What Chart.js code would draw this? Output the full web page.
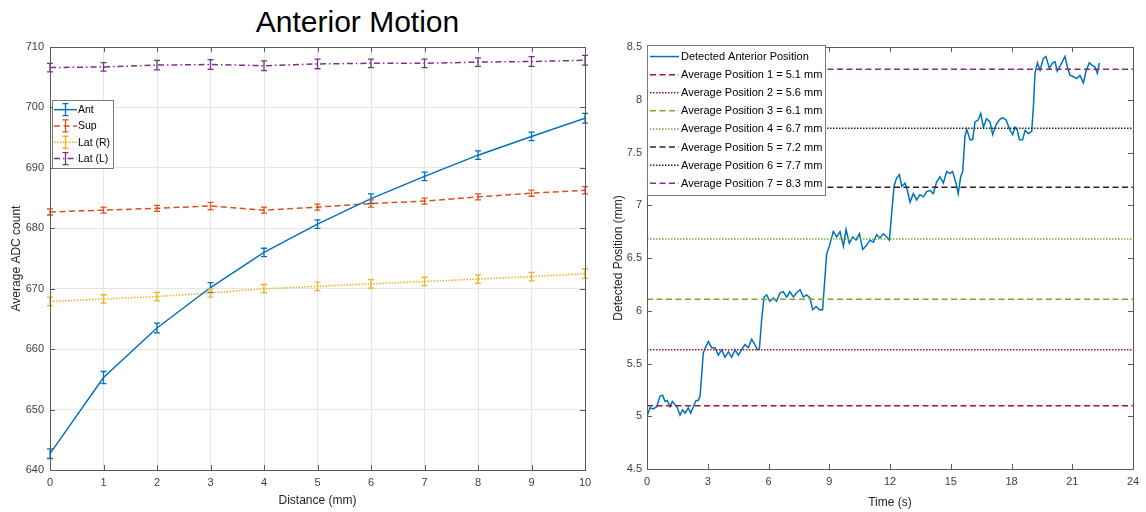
<!DOCTYPE html>
<html>
<head>
<meta charset="utf-8">
<script src="https://cdn.jsdelivr.net/npm/chart.js@4.4.1/dist/chart.umd.min.js"></script>
<style>
  body { margin: 0; background: #fff; width: 1146px; height: 512px; overflow: hidden; position: relative; font-family: "Liberation Sans", Arial, sans-serif; }
  #title { position: absolute; left: 0; width: 715px; top: 7px; line-height: 30px; text-align: center; font-size: 30px; color: #000; }
  #leftBox { position: absolute; left: 0; top: 0; width: 600px; height: 512px; }
  #rightBox { position: absolute; left: 600px; top: 0; width: 546px; height: 512px; }
</style>
</head>
<body>
<div id="title">Anterior Motion</div>
<div id="leftBox"><canvas id="adcChart"></canvas></div>
<div id="rightBox"><canvas id="posChart"></canvas></div>
<script>
// ---- left panel data ----
const distanceMm = [0, 1, 2, 3, 4, 5, 6, 7, 8, 9, 10];
const antAdc  = [642.7, 655.3, 663.5, 670.2, 676.0, 680.7, 684.9, 688.6, 692.1, 695.2, 698.2];
const supAdc  = [682.7, 683.0, 683.3, 683.7, 683.0, 683.5, 684.1, 684.5, 685.2, 685.8, 686.3];
const latRAdc = [667.9, 668.3, 668.7, 669.3, 670.0, 670.4, 670.8, 671.2, 671.6, 672.0, 672.5];
const latLAdc = [706.6, 706.7, 707.0, 707.1, 706.9, 707.2, 707.3, 707.3, 707.5, 707.6, 707.8];
const antErr  = [0.8, 1.0, 0.8, 0.8, 0.7, 0.7, 0.8, 0.7, 0.7, 0.7, 0.8];
const supErr  = [0.5, 0.5, 0.5, 0.6, 0.5, 0.5, 0.6, 0.5, 0.5, 0.5, 0.6];
const latRErr = [0.7, 0.7, 0.7, 0.7, 0.7, 0.7, 0.7, 0.7, 0.7, 0.7, 0.8];
const latLErr = [0.7, 0.7, 0.8, 0.8, 0.8, 0.8, 0.7, 0.7, 0.7, 0.8, 0.8];

// ---- right panel data ----
const timeS = [0.00, 0.15, 0.31, 0.48, 0.64, 0.77, 0.89, 1.00, 1.14, 1.25, 1.38, 1.50, 1.63, 1.76, 1.88, 2.04, 2.16, 2.29, 2.42, 2.53, 2.62,
  2.78, 2.86, 3.03, 3.19, 3.36, 3.52, 3.69, 3.85, 4.02, 4.18, 4.35, 4.51, 4.67, 4.84, 5.00, 5.17, 5.33, 5.45, 5.55,
  5.66, 5.78, 5.91, 6.07, 6.24, 6.40, 6.57, 6.73, 6.90, 7.06, 7.23, 7.39, 7.56, 7.72, 7.89, 8.05, 8.18, 8.35, 8.51, 8.67,
  8.79, 8.87, 9.00, 9.20, 9.37, 9.53, 9.70, 9.83, 9.99, 10.16, 10.32, 10.49, 10.65, 10.85, 11.01, 11.18, 11.34, 11.51, 11.67, 11.84, 11.97,
  12.08, 12.20, 12.33, 12.46, 12.58, 12.74, 12.86, 12.99, 13.15, 13.32, 13.48, 13.65, 13.81, 13.98, 14.14, 14.30, 14.47, 14.63, 14.80, 14.96, 15.09, 15.26, 15.37, 15.49, 15.59,
  15.70, 15.79, 15.95, 16.08, 16.20, 16.36, 16.48, 16.61, 16.77, 16.94, 17.07, 17.23, 17.40, 17.56, 17.73, 17.93, 18.06, 18.17, 18.29, 18.39, 18.55, 18.67, 18.83, 19.00,
  19.08, 19.16, 19.28, 19.41, 19.57, 19.70, 19.87, 20.03, 20.15, 20.26, 20.43, 20.64, 20.76, 20.89, 21.05, 21.22, 21.38, 21.55, 21.68, 21.84, 21.96, 22.12, 22.24, 22.34];
const posMm = [5.00, 5.08, 5.07, 5.09, 5.19, 5.20, 5.14, 5.15, 5.09, 5.14, 5.11, 5.08, 5.01, 5.06, 5.03, 5.08, 5.03, 5.09, 5.15, 5.15, 5.19,
  5.60, 5.64, 5.71, 5.65, 5.65, 5.58, 5.63, 5.56, 5.61, 5.56, 5.63, 5.58, 5.63, 5.68, 5.65, 5.73, 5.68, 5.63, 5.64,
  5.91, 6.13, 6.15, 6.09, 6.12, 6.09, 6.17, 6.18, 6.13, 6.18, 6.13, 6.17, 6.20, 6.13, 6.15, 6.12, 6.01, 6.04, 6.01, 6.01,
  6.32, 6.54, 6.61, 6.75, 6.70, 6.75, 6.61, 6.77, 6.64, 6.70, 6.67, 6.73, 6.58, 6.62, 6.67, 6.65, 6.72, 6.69, 6.73, 6.70, 6.67,
  6.92, 7.18, 7.26, 7.29, 7.18, 7.21, 7.14, 7.03, 7.11, 7.05, 7.10, 7.08, 7.13, 7.14, 7.11, 7.22, 7.27, 7.21, 7.32, 7.30, 7.32, 7.21, 7.11, 7.27, 7.32,
  7.65, 7.72, 7.62, 7.62, 7.79, 7.81, 7.87, 7.74, 7.82, 7.79, 7.67, 7.76, 7.81, 7.83, 7.81, 7.71, 7.67, 7.74, 7.71, 7.62, 7.62, 7.71, 7.68, 7.70,
  7.93, 8.25, 8.35, 8.28, 8.39, 8.41, 8.30, 8.35, 8.36, 8.27, 8.33, 8.41, 8.31, 8.23, 8.22, 8.20, 8.23, 8.16, 8.27, 8.35, 8.33, 8.31, 8.25, 8.35];
const avgLevels = [5.10, 5.63, 6.11, 6.68, 7.17, 7.73, 8.29];
const avgLabels = ['Average Position 1 = 5.1 mm', 'Average Position 2 = 5.6 mm', 'Average Position 3 = 6.1 mm',
  'Average Position 4 = 6.7 mm', 'Average Position 5 = 7.2 mm', 'Average Position 6 = 7.7 mm', 'Average Position 7 = 8.3 mm'];
const avgColors = ['#A2142F', '#A2142F', '#77AC30', '#77AC30', '#262626', '#262626', '#7E2F8E'];

const FONT = '"Liberation Sans", Arial, sans-serif';
const TICK_COLOR = '#404040';
const DASH = [6, 3.5];
const DOT = [1.5, 1.5];

// error bars (vertical with caps) drawn through the chart's scales
const errorBarPlugin = {
  id: 'errorBars',
  afterDatasetsDraw(chart) {
    const { ctx, scales: { x, y } } = chart;
    chart.data.datasets.forEach(ds => {
      if (!ds.errors) return;
      ctx.save();
      ctx.strokeStyle = ds.borderColor;
      ctx.lineWidth = 1.3;
      ds.data.forEach((p, i) => {
        const px = x.getPixelForValue(p.x);
        const top = y.getPixelForValue(p.y + ds.errors[i]);
        const bot = y.getPixelForValue(p.y - ds.errors[i]);
        ctx.beginPath();
        ctx.moveTo(px, top); ctx.lineTo(px, bot);
        ctx.moveTo(px - 3, top); ctx.lineTo(px + 3, top);
        ctx.moveTo(px - 3, bot); ctx.lineTo(px + 3, bot);
        ctx.stroke();
      });
      ctx.restore();
    });
  }
};

// MATLAB-like box with inward ticks on all sides
const framePlugin = {
  id: 'frame',
  afterDraw(chart) {
    const { ctx, chartArea: a, scales: { x, y } } = chart;
    const L = 5;
    ctx.save();
    ctx.strokeStyle = '#5a5a5a';
    ctx.lineWidth = 1;
    ctx.strokeRect(Math.round(a.left) + 0.5, Math.round(a.top) + 0.5, Math.round(a.width), Math.round(a.height));
    ctx.beginPath();
    x.ticks.forEach(t => {
      const px = Math.round(x.getPixelForValue(t.value)) + 0.5;
      ctx.moveTo(px, a.bottom); ctx.lineTo(px, a.bottom - L);
      ctx.moveTo(px, a.top); ctx.lineTo(px, a.top + L);
    });
    y.ticks.forEach(t => {
      const py = Math.round(y.getPixelForValue(t.value)) + 0.5;
      ctx.moveTo(a.left, py); ctx.lineTo(a.left + L, py);
      ctx.moveTo(a.right, py); ctx.lineTo(a.right - L, py);
    });
    ctx.stroke();
    ctx.restore();
  }
};

// boxed legend inside the axes
const boxLegendPlugin = {
  id: 'boxLegend',
  afterDraw(chart, args, o) {
    const { ctx, chartArea } = chart;
    const items = chart.data.datasets;
    ctx.save();
    ctx.font = o.fontSize + 'px ' + FONT;
    const textW = Math.max(...items.map(d => ctx.measureText(d.label).width));
    const x = Math.round(chartArea.left + o.dx), y = Math.round(chartArea.top + o.dy);
    const w = Math.round(o.textOffset + textW + o.rightPad);
    const h = Math.round(items.length * o.rowH + o.vPad * 2);
    ctx.fillStyle = '#fff';
    ctx.fillRect(x, y, w, h);
    ctx.strokeStyle = '#7a7a7a';
    ctx.lineWidth = 1;
    ctx.strokeRect(x + 0.5, y + 0.5, w, h);
    items.forEach((d, i) => {
      const cy = y + o.vPad + o.rowH * (i + 0.5);
      ctx.strokeStyle = d.borderColor;
      ctx.lineWidth = d.borderWidth;
      ctx.setLineDash(d.borderDash || []);
      ctx.beginPath();
      ctx.moveTo(x + o.lineStart, cy);
      ctx.lineTo(x + o.lineStart + o.lineLen, cy);
      ctx.stroke();
      ctx.setLineDash([]);
      if (d.errors) {
        const cx = x + o.lineStart + o.lineLen / 2;
        ctx.lineWidth = 1.3;
        ctx.beginPath();
        ctx.moveTo(cx, cy - 6); ctx.lineTo(cx, cy + 6);
        ctx.moveTo(cx - 3, cy - 6); ctx.lineTo(cx + 3, cy - 6);
        ctx.moveTo(cx - 3, cy + 6); ctx.lineTo(cx + 3, cy + 6);
        ctx.stroke();
      }
      ctx.fillStyle = '#000';
      ctx.textBaseline = 'middle';
      ctx.textAlign = 'left';
      ctx.fillText(d.label, x + o.textOffset, cy + 0.5);
    });
    ctx.restore();
  }
};

function pts(xs, ys) {
  return xs.map((v, i) => ({ x: v, y: ys[i] }));
}

const tickFont = { family: FONT, size: 11 };
const titleFont = { family: FONT, size: 12 };
const plainNumber = v => String(Math.round(v * 100) / 100);

// ---- left chart ----
new Chart(document.getElementById('adcChart'), {
  type: 'line',
  data: {
    datasets: [
      { label: 'Ant', data: pts(distanceMm, antAdc), errors: antErr, borderColor: '#0072BD', borderWidth: 1.5, borderDash: [] },
      { label: 'Sup', data: pts(distanceMm, supAdc), errors: supErr, borderColor: '#D95319', borderWidth: 1.5, borderDash: DASH },
      { label: 'Lat (R)', data: pts(distanceMm, latRAdc), errors: latRErr, borderColor: '#EDB120', borderWidth: 1.5, borderDash: DOT },
      { label: 'Lat (L)', data: pts(distanceMm, latLAdc), errors: latLErr, borderColor: '#7E2F8E', borderWidth: 1.5, borderDash: [6, 3, 1.5, 3] }
    ]
  },
  options: {
    responsive: true,
    maintainAspectRatio: false,
    animation: false,
    layout: { padding: { top: 47, right: 15, left: 0, bottom: 0 } },
    elements: { point: { radius: 0 }, line: { tension: 0 } },
    plugins: {
      legend: { display: false },
      tooltip: { enabled: false },
      boxLegend: { fontSize: 10.5, dx: 2, dy: 53, rowH: 16.3, vPad: 1.5, lineStart: 2, lineLen: 23, textOffset: 26, rightPad: 3 }
    },
    scales: {
      x: {
        type: 'linear', min: 0, max: 10,
        afterFit: s => { s.height = 42; },
        ticks: { stepSize: 1, autoSkip: false, maxRotation: 0, color: TICK_COLOR, font: tickFont, padding: 6, callback: plainNumber },
        grid: { color: '#e6e6e6', drawTicks: false },
        border: { display: false },
        title: { display: true, text: 'Distance (mm)', color: '#262626', font: titleFont, padding: { top: 0, bottom: 4 } }
      },
      y: {
        min: 640, max: 710,
        afterFit: s => { s.width = 50; },
        ticks: { stepSize: 10, autoSkip: false, color: TICK_COLOR, font: tickFont, padding: 6, callback: plainNumber },
        grid: { color: '#e6e6e6', drawTicks: false },
        border: { display: false },
        title: { display: true, text: 'Average ADC count', color: '#262626', font: titleFont, padding: { top: 9, bottom: 0 } }
      }
    }
  },
  plugins: [errorBarPlugin, framePlugin, boxLegendPlugin]
});

// ---- right chart ----
const posDatasets = [
  { label: 'Detected Anterior Position', data: pts(timeS, posMm), borderColor: '#0072BD', borderWidth: 1.5, borderDash: [], order: 10 }
].concat(avgLevels.map((lvl, i) => ({
  label: avgLabels[i],
  data: [{ x: 0, y: lvl }, { x: 24, y: lvl }],
  borderColor: avgColors[i],
  borderWidth: 1.5,
  borderDash: i % 2 === 0 ? DASH : DOT,
  order: 1
})));

new Chart(document.getElementById('posChart'), {
  type: 'line',
  data: { datasets: posDatasets },
  options: {
    responsive: true,
    maintainAspectRatio: false,
    animation: false,
    layout: { padding: { top: 47, right: 13, left: 0, bottom: 0 } },
    elements: { point: { radius: 0 }, line: { tension: 0 } },
    plugins: {
      legend: { display: false },
      tooltip: { enabled: false },
      boxLegend: { fontSize: 11, dx: 0, dy: -2, rowH: 18.1, vPad: 2.5, lineStart: 3, lineLen: 29, textOffset: 34, rightPad: 3 }
    },
    scales: {
      x: {
        type: 'linear', min: 0, max: 24,
        afterFit: s => { s.height = 43; },
        ticks: { stepSize: 3, autoSkip: false, maxRotation: 0, color: TICK_COLOR, font: tickFont, padding: 6, callback: plainNumber },
        grid: { display: false, drawTicks: false },
        border: { display: false },
        title: { display: true, text: 'Time (s)', color: '#262626', font: titleFont, padding: { top: 0, bottom: 2 } }
      },
      y: {
        min: 4.5, max: 8.5,
        afterFit: s => { s.width = 47; },
        ticks: { stepSize: 0.5, autoSkip: false, color: TICK_COLOR, font: tickFont, padding: 5, callback: plainNumber },
        grid: { display: false, drawTicks: false },
        border: { display: false },
        title: { display: true, text: 'Detected Position (mm)', color: '#262626', font: titleFont, padding: { top: 11, bottom: 0 } }
      }
    }
  },
  plugins: [framePlugin, boxLegendPlugin]
});
</script>
</body>
</html>
